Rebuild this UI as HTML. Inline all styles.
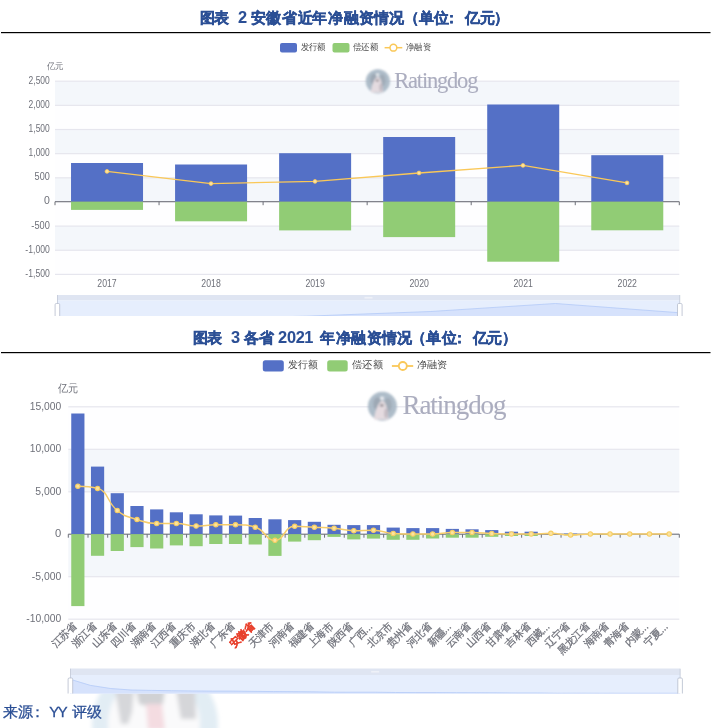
<!DOCTYPE html>
<html><head><meta charset="utf-8"><style>
html,body{margin:0;padding:0;background:#fff;width:715px;height:728px;overflow:hidden}
svg{display:block;font-family:"Liberation Sans",sans-serif;will-change:transform}
</style></head><body>
<svg width="715" height="728" viewBox="0 0 715 728">
<defs>
<filter id="blur1" x="-20%" y="-20%" width="140%" height="140%"><feGaussianBlur stdDeviation="0.9"/></filter>
<filter id="blur2" x="-20%" y="-20%" width="140%" height="140%"><feGaussianBlur stdDeviation="1.0"/></filter>
<filter id="blur3" x="-20%" y="-20%" width="140%" height="140%"><feGaussianBlur stdDeviation="2.2"/></filter>
</defs>
<rect width="715" height="728" fill="#fff"/>
<clipPath id="wm"><rect x="0" y="693.5" width="715" height="40"/></clipPath><g clip-path="url(#wm)"><g filter="url(#blur3)">
<circle cx="155" cy="724" r="63" fill="#E2EDF4"/>
<ellipse cx="154" cy="724" rx="46" ry="50" fill="#FAFAFB"/>
<path d="M115,690 L134,690 L132,712 L128,724 L121,724 Z" fill="#D6D7DA"/>
<path d="M136,690 L165,690 L163,704 L150,707 L139,704 Z" fill="#D0D1D4"/>
<path d="M146,704 L162,704 L165,730 L148,730 Z" fill="#F4DCE1"/>
<path d="M176,690 L195,690 L196,719 L181,719 Z" fill="#D5D6D9"/>
</g></g>
<text y="22.9" font-size="14.6" fill="#2B4F95" stroke="#2B4F95" stroke-width="0.4"><tspan x="200.11" font-weight="bold">图</tspan><tspan x="213.91" font-weight="bold">表</tspan><tspan x="237.92" font-weight="bold" font-size="16.35" stroke-width="0.05">2</tspan><tspan x="250.91" font-weight="bold">安</tspan><tspan x="265.91" font-weight="bold">徽</tspan><tspan x="281.61" font-weight="bold">省</tspan><tspan x="297.81" font-weight="bold">近</tspan><tspan x="312.41" font-weight="bold">年</tspan><tspan x="327.81" font-weight="bold">净</tspan><tspan x="343.61" font-weight="bold">融</tspan><tspan x="359.01" font-weight="bold">资</tspan><tspan x="374.41" font-weight="bold">情</tspan><tspan x="389.31" font-weight="bold">况</tspan><tspan x="403.61" font-weight="bold">（</tspan><tspan x="418.91" font-weight="bold">单</tspan><tspan x="434.31" font-weight="bold">位</tspan><tspan x="444.23" font-weight="bold">：</tspan><tspan x="465.11" font-weight="bold">亿</tspan><tspan x="479.71" font-weight="bold">元</tspan><tspan x="494.3" font-weight="bold">）</tspan></text>
<rect x="1" y="32" width="709.5" height="1.2" fill="#000"/>
<rect x="280" y="43" width="17" height="9.5" rx="2" fill="#5470C6"/>
<text x="300.7" y="49.900000000000006" font-size="8.8" fill="#4A4A4A" textLength="25.2" lengthAdjust="spacingAndGlyphs">发行额</text>
<rect x="332.5" y="43" width="17" height="9.5" rx="2" fill="#91CC75"/>
<text x="353" y="49.900000000000006" font-size="8.8" fill="#4A4A4A" textLength="25" lengthAdjust="spacingAndGlyphs">偿还额</text>
<line x1="384.6" y1="47.7" x2="402.3" y2="47.7" stroke="#FAC858" stroke-width="1.5"/>
<circle cx="393.4" cy="47.7" r="3.4" fill="#fff" stroke="#FAC858" stroke-width="1.5"/>
<text x="406" y="49.900000000000006" font-size="8.8" fill="#4A4A4A" textLength="24.8" lengthAdjust="spacingAndGlyphs">净融资</text>
<rect x="55.0" y="81.2" width="624.3" height="24.15" fill="#F4F7FB"/>
<rect x="55.0" y="105.35" width="624.3" height="24.15" fill="#FEFEFF"/>
<rect x="55.0" y="129.5" width="624.3" height="24.15" fill="#F4F7FB"/>
<rect x="55.0" y="153.65" width="624.3" height="24.15" fill="#FEFEFF"/>
<rect x="55.0" y="177.8" width="624.3" height="24.15" fill="#F4F7FB"/>
<rect x="55.0" y="201.95" width="624.3" height="24.15" fill="#FEFEFF"/>
<rect x="55.0" y="226.1" width="624.3" height="24.15" fill="#F4F7FB"/>
<rect x="55.0" y="250.25" width="624.3" height="24.15" fill="#FEFEFF"/>
<rect x="55.0" y="80.6" width="624.3" height="1.2" fill="#E6E6EE"/>
<rect x="55.0" y="104.75" width="624.3" height="1.2" fill="#E6E6EE"/>
<rect x="55.0" y="128.9" width="624.3" height="1.2" fill="#E6E6EE"/>
<rect x="55.0" y="153.05" width="624.3" height="1.2" fill="#E6E6EE"/>
<rect x="55.0" y="177.2" width="624.3" height="1.2" fill="#E6E6EE"/>
<rect x="55.0" y="225.5" width="624.3" height="1.2" fill="#E6E6EE"/>
<rect x="55.0" y="249.65" width="624.3" height="1.2" fill="#E6E6EE"/>
<rect x="55.0" y="273.8" width="624.3" height="1.2" fill="#E6E6EE"/>
<g filter="url(#blur1)" opacity="0.92">
<circle cx="377.85" cy="81.35" r="12.1" fill="#A7B7C5"/>
<ellipse cx="373.82" cy="79.33" rx="3.53" ry="5.55" fill="#95A1AE"/>
<ellipse cx="382.39" cy="80.34" rx="3.23" ry="6.05" fill="#9AA6B2"/>
<path d="M370.79,92.44 C371.8,84.38 374.83,77.32 377.85,76.81 C380.88,77.32 382.39,84.38 382.89,92.44 Z" fill="#E3D9DE"/>
<circle cx="377.55" cy="74.8" r="1.51" fill="#EEF0F3"/>
<ellipse cx="377.35" cy="80.54" rx="1.51" ry="1.31" fill="#8F878E"/>
<ellipse cx="380.88" cy="87.4" rx="1.51" ry="4.03" fill="#C0B6BE"/>
</g>
<text x="394.2" y="87.9" font-family="Liberation Serif" font-size="22.5" fill="#ABADBF" stroke="#ABADBF" stroke-width="0.1" textLength="84.2" lengthAdjust="spacing">Ratingdog</text>
<rect x="55.0" y="201.15" width="624.3" height="1.1" fill="#6E7079"/>
<rect x="54.5" y="201.7" width="1" height="3.5" fill="#6E7079"/>
<rect x="158.55" y="201.7" width="1" height="3.5" fill="#6E7079"/>
<rect x="262.6" y="201.7" width="1" height="3.5" fill="#6E7079"/>
<rect x="366.65" y="201.7" width="1" height="3.5" fill="#6E7079"/>
<rect x="470.7" y="201.7" width="1" height="3.5" fill="#6E7079"/>
<rect x="574.75" y="201.7" width="1" height="3.5" fill="#6E7079"/>
<rect x="678.8" y="201.7" width="1" height="3.5" fill="#6E7079"/>
<rect x="71.03" y="163" width="72" height="38.7" fill="#5470C6"/>
<rect x="71.03" y="201.7" width="72" height="8.2" fill="#91CC75"/>
<rect x="175.07" y="164.5" width="72" height="37.2" fill="#5470C6"/>
<rect x="175.07" y="201.7" width="72" height="19.6" fill="#91CC75"/>
<rect x="279.12" y="153.2" width="72" height="48.5" fill="#5470C6"/>
<rect x="279.12" y="201.7" width="72" height="28.7" fill="#91CC75"/>
<rect x="383.18" y="137" width="72" height="64.7" fill="#5470C6"/>
<rect x="383.18" y="201.7" width="72" height="35.4" fill="#91CC75"/>
<rect x="487.22" y="104.5" width="72" height="97.2" fill="#5470C6"/>
<rect x="487.22" y="201.7" width="72" height="60" fill="#91CC75"/>
<rect x="591.27" y="155.2" width="72" height="46.5" fill="#5470C6"/>
<rect x="591.27" y="201.7" width="72" height="28.6" fill="#91CC75"/>
<polyline points="107,171.4 211,183.6 315,181.4 419,173.0 523,165.4 627,182.9" fill="none" stroke="#FAC858" stroke-width="1.3"/>
<circle cx="107" cy="171.4" r="1.9" fill="#FCE3A0" stroke="#FAC858" stroke-width="0.8"/>
<circle cx="211" cy="183.6" r="1.9" fill="#FCE3A0" stroke="#FAC858" stroke-width="0.8"/>
<circle cx="315" cy="181.4" r="1.9" fill="#FCE3A0" stroke="#FAC858" stroke-width="0.8"/>
<circle cx="419" cy="173.0" r="1.9" fill="#FCE3A0" stroke="#FAC858" stroke-width="0.8"/>
<circle cx="523" cy="165.4" r="1.9" fill="#FCE3A0" stroke="#FAC858" stroke-width="0.8"/>
<circle cx="627" cy="182.9" r="1.9" fill="#FCE3A0" stroke="#FAC858" stroke-width="0.8"/>
<text x="49.8" y="83.7" text-anchor="end" font-size="10.5" fill="#6E7079" textLength="21.2" lengthAdjust="spacingAndGlyphs">2,500</text>
<text x="49.8" y="107.85" text-anchor="end" font-size="10.5" fill="#6E7079" textLength="21.2" lengthAdjust="spacingAndGlyphs">2,000</text>
<text x="49.8" y="132" text-anchor="end" font-size="10.5" fill="#6E7079" textLength="21.2" lengthAdjust="spacingAndGlyphs">1,500</text>
<text x="49.8" y="156.15" text-anchor="end" font-size="10.5" fill="#6E7079" textLength="21.2" lengthAdjust="spacingAndGlyphs">1,000</text>
<text x="49.8" y="180.3" text-anchor="end" font-size="10.5" fill="#6E7079" textLength="15.2" lengthAdjust="spacingAndGlyphs">500</text>
<text x="49.8" y="204.45" text-anchor="end" font-size="10.5" fill="#6E7079">0</text>
<text x="49.8" y="228.6" text-anchor="end" font-size="10.5" fill="#6E7079" textLength="18.5" lengthAdjust="spacingAndGlyphs">-500</text>
<text x="49.8" y="252.75" text-anchor="end" font-size="10.5" fill="#6E7079" textLength="24.5" lengthAdjust="spacingAndGlyphs">-1,000</text>
<text x="49.8" y="276.9" text-anchor="end" font-size="10.5" fill="#6E7079" textLength="24.5" lengthAdjust="spacingAndGlyphs">-1,500</text>
<text x="47" y="69.2" font-size="9" fill="#6E7079" textLength="16.6" lengthAdjust="spacingAndGlyphs">亿元</text>
<text x="107.03" y="286.5" text-anchor="middle" font-size="10.3" fill="#6E7079" textLength="19.4" lengthAdjust="spacingAndGlyphs">2017</text>
<text x="211.07" y="286.5" text-anchor="middle" font-size="10.3" fill="#6E7079" textLength="19.4" lengthAdjust="spacingAndGlyphs">2018</text>
<text x="315.12" y="286.5" text-anchor="middle" font-size="10.3" fill="#6E7079" textLength="19.4" lengthAdjust="spacingAndGlyphs">2019</text>
<text x="419.18" y="286.5" text-anchor="middle" font-size="10.3" fill="#6E7079" textLength="19.4" lengthAdjust="spacingAndGlyphs">2020</text>
<text x="523.22" y="286.5" text-anchor="middle" font-size="10.3" fill="#6E7079" textLength="19.4" lengthAdjust="spacingAndGlyphs">2021</text>
<text x="627.27" y="286.5" text-anchor="middle" font-size="10.3" fill="#6E7079" textLength="19.4" lengthAdjust="spacingAndGlyphs">2022</text>
<rect x="57" y="295" width="623" height="5.5" fill="#DFE5F2"/>
<rect x="57" y="300.5" width="623" height="15.5" fill="#E6EEFD"/>
<rect x="364.5" y="296.95" width="8" height="1.6" fill="#EEF1F8"/>
<clipPath id="cs1"><rect x="57" y="300.5" width="623" height="15.5"/></clipPath>
<g clip-path="url(#cs1)">
<path d="M57,336 L57,318.5 L181.6,319 L306.2,316.2 L430.8,311.5 L555.4,303.5 L680,312.8 L680,336 Z" fill="#D6E2FC" stroke="#B4CAF8" stroke-width="0.8"/>
</g>
<clipPath id="cs1b"><rect x="47" y="295" width="643" height="21"/></clipPath>
<g clip-path="url(#cs1b)">
<rect x="57" y="295" width="0.8" height="8.5" fill="#C3CAD8"/>
<rect x="55.1" y="303.5" width="4.6" height="20.5" rx="1.2" fill="#fff" stroke="#B5BDCD" stroke-width="0.8"/>
<rect x="679.4" y="295" width="0.8" height="8.5" fill="#C3CAD8"/>
<rect x="677.5" y="303.5" width="4.6" height="20.5" rx="1.2" fill="#fff" stroke="#B5BDCD" stroke-width="0.8"/>
</g>
<text y="342.9" font-size="14.6" fill="#2B4F95" stroke="#2B4F95" stroke-width="0.4"><tspan x="193.11" font-weight="bold">图</tspan><tspan x="206.91" font-weight="bold">表</tspan><tspan x="230.92" font-weight="bold" font-size="16.35" stroke-width="0.05">3</tspan><tspan x="243.91" font-weight="bold">各</tspan><tspan x="259.21" font-weight="bold">省</tspan><tspan x="278.12" font-weight="bold" font-size="16.35" stroke-width="0.05">2</tspan><tspan x="286.92" font-weight="bold" font-size="16.35" stroke-width="0.05">0</tspan><tspan x="295.82" font-weight="bold" font-size="16.35" stroke-width="0.05">2</tspan><tspan x="304.14" font-weight="bold" font-size="16.35" stroke-width="0.05">1</tspan><tspan x="320.11" font-weight="bold">年</tspan><tspan x="335.51" font-weight="bold">净</tspan><tspan x="351.31" font-weight="bold">融</tspan><tspan x="366.71" font-weight="bold">资</tspan><tspan x="382.11" font-weight="bold">情</tspan><tspan x="397.01" font-weight="bold">况</tspan><tspan x="411.31" font-weight="bold">（</tspan><tspan x="426.21" font-weight="bold">单</tspan><tspan x="442.01" font-weight="bold">位</tspan><tspan x="451.93" font-weight="bold">：</tspan><tspan x="472.81" font-weight="bold">亿</tspan><tspan x="487.41" font-weight="bold">元</tspan><tspan x="501.9" font-weight="bold">）</tspan></text>
<rect x="1" y="352" width="709.5" height="1.2" fill="#000"/>
<rect x="262.8" y="360.3" width="21" height="11.3" rx="2.5" fill="#5470C6"/>
<text x="288.4" y="368.3" font-size="10.3" fill="#4A4A4A" textLength="29.6" lengthAdjust="spacingAndGlyphs">发行额</text>
<rect x="327.2" y="360.3" width="20.5" height="11.3" rx="2.5" fill="#91CC75"/>
<text x="352.3" y="368.3" font-size="10.3" fill="#4A4A4A" textLength="30.5" lengthAdjust="spacingAndGlyphs">偿还额</text>
<line x1="391.9" y1="366" x2="413.2" y2="366" stroke="#FAC858" stroke-width="1.8"/>
<circle cx="402.8" cy="366" r="4" fill="#fff" stroke="#FAC858" stroke-width="1.8"/>
<text x="416.8" y="368.3" font-size="10.3" fill="#4A4A4A" textLength="30.4" lengthAdjust="spacingAndGlyphs">净融资</text>
<rect x="68.3" y="406.8" width="611" height="42.5" fill="#FEFEFF"/>
<rect x="68.3" y="449.3" width="611" height="42.5" fill="#F4F7FB"/>
<rect x="68.3" y="491.8" width="611" height="42.5" fill="#FEFEFF"/>
<rect x="68.3" y="534.3" width="611" height="42.4" fill="#F4F7FB"/>
<rect x="68.3" y="576.7" width="611" height="42.5" fill="#FEFEFF"/>
<rect x="68.3" y="406.2" width="611" height="1.2" fill="#E6E6EE"/>
<rect x="68.3" y="448.7" width="611" height="1.2" fill="#E6E6EE"/>
<rect x="68.3" y="491.2" width="611" height="1.2" fill="#E6E6EE"/>
<rect x="68.3" y="576.1" width="611" height="1.2" fill="#E6E6EE"/>
<rect x="68.3" y="618.6" width="611" height="1.2" fill="#E6E6EE"/>
<g filter="url(#blur2)" opacity="0.92">
<circle cx="382.4" cy="406.2" r="14.5" fill="#A7B7C5"/>
<ellipse cx="377.57" cy="403.78" rx="4.23" ry="6.65" fill="#95A1AE"/>
<ellipse cx="387.84" cy="404.99" rx="3.87" ry="7.25" fill="#9AA6B2"/>
<path d="M373.94,419.49 C375.15,409.82 378.77,401.37 382.4,400.76 C386.02,401.37 387.84,409.82 388.44,419.49 Z" fill="#E3D9DE"/>
<circle cx="382.04" cy="398.35" r="1.81" fill="#EEF0F3"/>
<ellipse cx="381.8" cy="405.23" rx="1.81" ry="1.57" fill="#8F878E"/>
<ellipse cx="386.02" cy="413.45" rx="1.81" ry="4.83" fill="#C0B6BE"/>
</g>
<text x="402.5" y="414.1" font-family="Liberation Serif" font-size="27" fill="#ABADBF" stroke="#ABADBF" stroke-width="0.1" textLength="104" lengthAdjust="spacing">Ratingdog</text>
<rect x="68.3" y="533.65" width="611" height="1.1" fill="#6E7079"/>
<rect x="67.8" y="534.2" width="1" height="3.5" fill="#6E7079"/>
<rect x="87.51" y="534.2" width="1" height="3.5" fill="#6E7079"/>
<rect x="107.22" y="534.2" width="1" height="3.5" fill="#6E7079"/>
<rect x="126.93" y="534.2" width="1" height="3.5" fill="#6E7079"/>
<rect x="146.64" y="534.2" width="1" height="3.5" fill="#6E7079"/>
<rect x="166.35" y="534.2" width="1" height="3.5" fill="#6E7079"/>
<rect x="186.06" y="534.2" width="1" height="3.5" fill="#6E7079"/>
<rect x="205.77" y="534.2" width="1" height="3.5" fill="#6E7079"/>
<rect x="225.48" y="534.2" width="1" height="3.5" fill="#6E7079"/>
<rect x="245.19" y="534.2" width="1" height="3.5" fill="#6E7079"/>
<rect x="264.9" y="534.2" width="1" height="3.5" fill="#6E7079"/>
<rect x="284.61" y="534.2" width="1" height="3.5" fill="#6E7079"/>
<rect x="304.32" y="534.2" width="1" height="3.5" fill="#6E7079"/>
<rect x="324.03" y="534.2" width="1" height="3.5" fill="#6E7079"/>
<rect x="343.74" y="534.2" width="1" height="3.5" fill="#6E7079"/>
<rect x="363.45" y="534.2" width="1" height="3.5" fill="#6E7079"/>
<rect x="383.15" y="534.2" width="1" height="3.5" fill="#6E7079"/>
<rect x="402.86" y="534.2" width="1" height="3.5" fill="#6E7079"/>
<rect x="422.57" y="534.2" width="1" height="3.5" fill="#6E7079"/>
<rect x="442.28" y="534.2" width="1" height="3.5" fill="#6E7079"/>
<rect x="461.99" y="534.2" width="1" height="3.5" fill="#6E7079"/>
<rect x="481.7" y="534.2" width="1" height="3.5" fill="#6E7079"/>
<rect x="501.41" y="534.2" width="1" height="3.5" fill="#6E7079"/>
<rect x="521.12" y="534.2" width="1" height="3.5" fill="#6E7079"/>
<rect x="540.83" y="534.2" width="1" height="3.5" fill="#6E7079"/>
<rect x="560.54" y="534.2" width="1" height="3.5" fill="#6E7079"/>
<rect x="580.25" y="534.2" width="1" height="3.5" fill="#6E7079"/>
<rect x="599.96" y="534.2" width="1" height="3.5" fill="#6E7079"/>
<rect x="619.67" y="534.2" width="1" height="3.5" fill="#6E7079"/>
<rect x="639.38" y="534.2" width="1" height="3.5" fill="#6E7079"/>
<rect x="659.09" y="534.2" width="1" height="3.5" fill="#6E7079"/>
<rect x="678.8" y="534.2" width="1" height="3.5" fill="#6E7079"/>
<rect x="71.25" y="413.5" width="13.2" height="120.7" fill="#5470C6"/>
<rect x="71.25" y="534.2" width="13.2" height="71.9" fill="#91CC75"/>
<rect x="90.96" y="466.6" width="13.2" height="67.6" fill="#5470C6"/>
<rect x="90.96" y="534.2" width="13.2" height="21.6" fill="#91CC75"/>
<rect x="110.67" y="493.2" width="13.2" height="41" fill="#5470C6"/>
<rect x="110.67" y="534.2" width="13.2" height="16.8" fill="#91CC75"/>
<rect x="130.38" y="506" width="13.2" height="28.2" fill="#5470C6"/>
<rect x="130.38" y="534.2" width="13.2" height="12.9" fill="#91CC75"/>
<rect x="150.09" y="509.4" width="13.2" height="24.8" fill="#5470C6"/>
<rect x="150.09" y="534.2" width="13.2" height="14.3" fill="#91CC75"/>
<rect x="169.8" y="512.3" width="13.2" height="21.9" fill="#5470C6"/>
<rect x="169.8" y="534.2" width="13.2" height="11.2" fill="#91CC75"/>
<rect x="189.51" y="514.3" width="13.2" height="19.9" fill="#5470C6"/>
<rect x="189.51" y="534.2" width="13.2" height="12" fill="#91CC75"/>
<rect x="209.22" y="515.4" width="13.2" height="18.8" fill="#5470C6"/>
<rect x="209.22" y="534.2" width="13.2" height="9.8" fill="#91CC75"/>
<rect x="228.93" y="515.6" width="13.2" height="18.6" fill="#5470C6"/>
<rect x="228.93" y="534.2" width="13.2" height="9.8" fill="#91CC75"/>
<rect x="248.64" y="518" width="13.2" height="16.2" fill="#5470C6"/>
<rect x="248.64" y="534.2" width="13.2" height="10.3" fill="#91CC75"/>
<rect x="268.35" y="519.3" width="13.2" height="14.9" fill="#5470C6"/>
<rect x="268.35" y="534.2" width="13.2" height="21.7" fill="#91CC75"/>
<rect x="288.06" y="520.1" width="13.2" height="14.1" fill="#5470C6"/>
<rect x="288.06" y="534.2" width="13.2" height="7.4" fill="#91CC75"/>
<rect x="307.77" y="521.8" width="13.2" height="12.4" fill="#5470C6"/>
<rect x="307.77" y="534.2" width="13.2" height="6" fill="#91CC75"/>
<rect x="327.48" y="524.8" width="13.2" height="9.4" fill="#5470C6"/>
<rect x="327.48" y="534.2" width="13.2" height="2.7" fill="#91CC75"/>
<rect x="347.19" y="525.1" width="13.2" height="9.1" fill="#5470C6"/>
<rect x="347.19" y="534.2" width="13.2" height="5.2" fill="#91CC75"/>
<rect x="366.9" y="525.1" width="13.2" height="9.1" fill="#5470C6"/>
<rect x="366.9" y="534.2" width="13.2" height="4.4" fill="#91CC75"/>
<rect x="386.61" y="527.6" width="13.2" height="6.6" fill="#5470C6"/>
<rect x="386.61" y="534.2" width="13.2" height="5.6" fill="#91CC75"/>
<rect x="406.32" y="528.1" width="13.2" height="6.1" fill="#5470C6"/>
<rect x="406.32" y="534.2" width="13.2" height="5.6" fill="#91CC75"/>
<rect x="426.03" y="528.1" width="13.2" height="6.1" fill="#5470C6"/>
<rect x="426.03" y="534.2" width="13.2" height="4.3" fill="#91CC75"/>
<rect x="445.74" y="528.9" width="13.2" height="5.3" fill="#5470C6"/>
<rect x="445.74" y="534.2" width="13.2" height="3.5" fill="#91CC75"/>
<rect x="465.45" y="529.3" width="13.2" height="4.9" fill="#5470C6"/>
<rect x="465.45" y="534.2" width="13.2" height="3.5" fill="#91CC75"/>
<rect x="485.16" y="530.1" width="13.2" height="4.1" fill="#5470C6"/>
<rect x="485.16" y="534.2" width="13.2" height="2.6" fill="#91CC75"/>
<rect x="504.87" y="531.7" width="13.2" height="2.5" fill="#5470C6"/>
<rect x="504.87" y="534.2" width="13.2" height="1.8" fill="#91CC75"/>
<rect x="524.58" y="531.7" width="13.2" height="2.5" fill="#5470C6"/>
<rect x="524.58" y="534.2" width="13.2" height="1.8" fill="#91CC75"/>
<rect x="564" y="533.6" width="13.2" height="0.6" fill="#5470C6"/>
<rect x="564" y="534.2" width="13.2" height="1.1" fill="#91CC75"/>
<rect x="583.71" y="534" width="13.2" height="0.2" fill="#5470C6"/>
<rect x="583.71" y="534.2" width="13.2" height="0.8" fill="#91CC75"/>
<rect x="603.42" y="534.2" width="13.2" height="0.4" fill="#91CC75"/>
<path d="M77.85,486.2 C77.85,486.2 89.66,486.2 97.56,488.4 C109.37,491.68 105.9,501.5 117.27,510.5 C125.61,517.1 126.75,516.2 136.98,519.6 C146.46,522.75 146.74,523.6 156.69,523.6 C166.45,523.6 166.59,523.5 176.4,523.5 C186.3,523.5 186.23,526 196.11,526 C205.94,526 205.96,524.8 215.82,524.8 C225.67,524.8 225.71,524.8 235.53,524.8 C245.42,524.8 246.25,524.8 255.24,527.2 C265.96,530.06 265.2,540.3 274.95,540.3 C284.91,540.3 283.81,526.3 294.66,526.3 C303.52,526.3 304.51,526.82 314.37,527.3 C324.22,527.77 324.26,527.35 334.08,528.2 C343.97,529.05 343.9,530.7 353.79,530.7 C363.61,530.7 363.71,530.2 373.5,530.2 C383.42,530.2 383.29,532.99 393.21,533.5 C403,534 403.06,534 412.92,534 C422.77,534 422.79,534 432.63,534 C442.5,534 442.47,532.6 452.34,532.6 C462.18,532.6 462.2,532.6 472.05,532.6 C481.91,532.6 481.9,533.15 491.76,533.5 C501.61,533.85 501.61,534 511.47,534 C521.32,534 521.33,534 531.18,534 C541.04,534 541.05,533.3 550.89,533.3 C560.76,533.3 560.73,535 570.6,535 C580.44,535 580.45,534 590.31,534 C600.15,534 600.16,534 610.02,534 C619.87,534 619.87,534 629.73,534 C639.58,534 639.58,534 649.44,534 C659.29,534 669.15,534 669.15,534" fill="none" stroke="#F7CD6A" stroke-width="1.5"/>
<circle cx="77.85" cy="486.2" r="2.2" fill="#FBE3A0" stroke="#F8CE62" stroke-width="1.1"/>
<circle cx="97.56" cy="488.4" r="2.2" fill="#FBE3A0" stroke="#F8CE62" stroke-width="1.1"/>
<circle cx="117.27" cy="510.5" r="2.2" fill="#FBE3A0" stroke="#F8CE62" stroke-width="1.1"/>
<circle cx="136.98" cy="519.6" r="2.2" fill="#FBE3A0" stroke="#F8CE62" stroke-width="1.1"/>
<circle cx="156.69" cy="523.6" r="2.2" fill="#FBE3A0" stroke="#F8CE62" stroke-width="1.1"/>
<circle cx="176.4" cy="523.5" r="2.2" fill="#FBE3A0" stroke="#F8CE62" stroke-width="1.1"/>
<circle cx="196.11" cy="526" r="2.2" fill="#FBE3A0" stroke="#F8CE62" stroke-width="1.1"/>
<circle cx="215.82" cy="524.8" r="2.2" fill="#FBE3A0" stroke="#F8CE62" stroke-width="1.1"/>
<circle cx="235.53" cy="524.8" r="2.2" fill="#FBE3A0" stroke="#F8CE62" stroke-width="1.1"/>
<circle cx="255.24" cy="527.2" r="2.2" fill="#FBE3A0" stroke="#F8CE62" stroke-width="1.1"/>
<circle cx="274.95" cy="540.3" r="2.2" fill="#FBE3A0" stroke="#F8CE62" stroke-width="1.1"/>
<circle cx="294.66" cy="526.3" r="2.2" fill="#FBE3A0" stroke="#F8CE62" stroke-width="1.1"/>
<circle cx="314.37" cy="527.3" r="2.2" fill="#FBE3A0" stroke="#F8CE62" stroke-width="1.1"/>
<circle cx="334.08" cy="528.2" r="2.2" fill="#FBE3A0" stroke="#F8CE62" stroke-width="1.1"/>
<circle cx="353.79" cy="530.7" r="2.2" fill="#FBE3A0" stroke="#F8CE62" stroke-width="1.1"/>
<circle cx="373.5" cy="530.2" r="2.2" fill="#FBE3A0" stroke="#F8CE62" stroke-width="1.1"/>
<circle cx="393.21" cy="533.5" r="2.2" fill="#FBE3A0" stroke="#F8CE62" stroke-width="1.1"/>
<circle cx="412.92" cy="534" r="2.2" fill="#FBE3A0" stroke="#F8CE62" stroke-width="1.1"/>
<circle cx="432.63" cy="534" r="2.2" fill="#FBE3A0" stroke="#F8CE62" stroke-width="1.1"/>
<circle cx="452.34" cy="532.6" r="2.2" fill="#FBE3A0" stroke="#F8CE62" stroke-width="1.1"/>
<circle cx="472.05" cy="532.6" r="2.2" fill="#FBE3A0" stroke="#F8CE62" stroke-width="1.1"/>
<circle cx="491.76" cy="533.5" r="2.2" fill="#FBE3A0" stroke="#F8CE62" stroke-width="1.1"/>
<circle cx="511.47" cy="534" r="2.2" fill="#FBE3A0" stroke="#F8CE62" stroke-width="1.1"/>
<circle cx="531.18" cy="534" r="2.2" fill="#FBE3A0" stroke="#F8CE62" stroke-width="1.1"/>
<circle cx="550.89" cy="533.3" r="2.2" fill="#FBE3A0" stroke="#F8CE62" stroke-width="1.1"/>
<circle cx="570.6" cy="535" r="2.2" fill="#FBE3A0" stroke="#F8CE62" stroke-width="1.1"/>
<circle cx="590.31" cy="534" r="2.2" fill="#FBE3A0" stroke="#F8CE62" stroke-width="1.1"/>
<circle cx="610.02" cy="534" r="2.2" fill="#FBE3A0" stroke="#F8CE62" stroke-width="1.1"/>
<circle cx="629.73" cy="534" r="2.2" fill="#FBE3A0" stroke="#F8CE62" stroke-width="1.1"/>
<circle cx="649.44" cy="534" r="2.2" fill="#FBE3A0" stroke="#F8CE62" stroke-width="1.1"/>
<circle cx="669.15" cy="534" r="2.2" fill="#FBE3A0" stroke="#F8CE62" stroke-width="1.1"/>
<text x="61.3" y="409.6" text-anchor="end" font-size="11.2" fill="#6E7079" textLength="31.5" lengthAdjust="spacingAndGlyphs">15,000</text>
<text x="61.3" y="452.1" text-anchor="end" font-size="11.2" fill="#6E7079" textLength="31.5" lengthAdjust="spacingAndGlyphs">10,000</text>
<text x="61.3" y="494.6" text-anchor="end" font-size="11.2" fill="#6E7079" textLength="26" lengthAdjust="spacingAndGlyphs">5,000</text>
<text x="61.3" y="537.1" text-anchor="end" font-size="11.2" fill="#6E7079">0</text>
<text x="61.3" y="579.5" text-anchor="end" font-size="11.2" fill="#6E7079" textLength="29.5" lengthAdjust="spacingAndGlyphs">-5,000</text>
<text x="61.3" y="622" text-anchor="end" font-size="11.2" fill="#6E7079" textLength="35" lengthAdjust="spacingAndGlyphs">-10,000</text>
<text x="58" y="392.2" font-size="10.6" fill="#6E7079" textLength="20.2" lengthAdjust="spacingAndGlyphs">亿元</text>
<text transform="translate(77.35,627.2) rotate(-45)" x="0" y="0" text-anchor="end" font-size="10.4" fill="#6E7079" stroke="#6E7079" stroke-width="0.25">江苏省</text>
<text transform="translate(97.06,627.2) rotate(-45)" x="0" y="0" text-anchor="end" font-size="10.4" fill="#6E7079" stroke="#6E7079" stroke-width="0.25">浙江省</text>
<text transform="translate(116.77,627.2) rotate(-45)" x="0" y="0" text-anchor="end" font-size="10.4" fill="#6E7079" stroke="#6E7079" stroke-width="0.25">山东省</text>
<text transform="translate(136.48,627.2) rotate(-45)" x="0" y="0" text-anchor="end" font-size="10.4" fill="#6E7079" stroke="#6E7079" stroke-width="0.25">四川省</text>
<text transform="translate(156.19,627.2) rotate(-45)" x="0" y="0" text-anchor="end" font-size="10.4" fill="#6E7079" stroke="#6E7079" stroke-width="0.25">湖南省</text>
<text transform="translate(175.9,627.2) rotate(-45)" x="0" y="0" text-anchor="end" font-size="10.4" fill="#6E7079" stroke="#6E7079" stroke-width="0.25">江西省</text>
<text transform="translate(195.61,627.2) rotate(-45)" x="0" y="0" text-anchor="end" font-size="10.4" fill="#6E7079" stroke="#6E7079" stroke-width="0.25">重庆市</text>
<text transform="translate(215.32,627.2) rotate(-45)" x="0" y="0" text-anchor="end" font-size="10.4" fill="#6E7079" stroke="#6E7079" stroke-width="0.25">湖北省</text>
<text transform="translate(235.03,627.2) rotate(-45)" x="0" y="0" text-anchor="end" font-size="10.4" fill="#6E7079" stroke="#6E7079" stroke-width="0.25">广东省</text>
<text transform="translate(254.74,627.2) rotate(-45)" x="0" y="0" text-anchor="end" font-size="10.4" font-weight="bold" fill="#E8402C" stroke="#E8402C" stroke-width="0.25">安徽省</text>
<text transform="translate(274.45,627.2) rotate(-45)" x="0" y="0" text-anchor="end" font-size="10.4" fill="#6E7079" stroke="#6E7079" stroke-width="0.25">天津市</text>
<text transform="translate(294.16,627.2) rotate(-45)" x="0" y="0" text-anchor="end" font-size="10.4" fill="#6E7079" stroke="#6E7079" stroke-width="0.25">河南省</text>
<text transform="translate(313.87,627.2) rotate(-45)" x="0" y="0" text-anchor="end" font-size="10.4" fill="#6E7079" stroke="#6E7079" stroke-width="0.25">福建省</text>
<text transform="translate(333.58,627.2) rotate(-45)" x="0" y="0" text-anchor="end" font-size="10.4" fill="#6E7079" stroke="#6E7079" stroke-width="0.25">上海市</text>
<text transform="translate(353.29,627.2) rotate(-45)" x="0" y="0" text-anchor="end" font-size="10.4" fill="#6E7079" stroke="#6E7079" stroke-width="0.25">陕西省</text>
<text transform="translate(373,627.2) rotate(-45)" x="0" y="0" text-anchor="end" font-size="10.4" fill="#6E7079" stroke="#6E7079" stroke-width="0.25">广西...</text>
<text transform="translate(392.71,627.2) rotate(-45)" x="0" y="0" text-anchor="end" font-size="10.4" fill="#6E7079" stroke="#6E7079" stroke-width="0.25">北京市</text>
<text transform="translate(412.42,627.2) rotate(-45)" x="0" y="0" text-anchor="end" font-size="10.4" fill="#6E7079" stroke="#6E7079" stroke-width="0.25">贵州省</text>
<text transform="translate(432.13,627.2) rotate(-45)" x="0" y="0" text-anchor="end" font-size="10.4" fill="#6E7079" stroke="#6E7079" stroke-width="0.25">河北省</text>
<text transform="translate(451.84,627.2) rotate(-45)" x="0" y="0" text-anchor="end" font-size="10.4" fill="#6E7079" stroke="#6E7079" stroke-width="0.25">新疆...</text>
<text transform="translate(471.55,627.2) rotate(-45)" x="0" y="0" text-anchor="end" font-size="10.4" fill="#6E7079" stroke="#6E7079" stroke-width="0.25">云南省</text>
<text transform="translate(491.26,627.2) rotate(-45)" x="0" y="0" text-anchor="end" font-size="10.4" fill="#6E7079" stroke="#6E7079" stroke-width="0.25">山西省</text>
<text transform="translate(510.97,627.2) rotate(-45)" x="0" y="0" text-anchor="end" font-size="10.4" fill="#6E7079" stroke="#6E7079" stroke-width="0.25">甘肃省</text>
<text transform="translate(530.68,627.2) rotate(-45)" x="0" y="0" text-anchor="end" font-size="10.4" fill="#6E7079" stroke="#6E7079" stroke-width="0.25">吉林省</text>
<text transform="translate(550.39,627.2) rotate(-45)" x="0" y="0" text-anchor="end" font-size="10.4" fill="#6E7079" stroke="#6E7079" stroke-width="0.25">西藏...</text>
<text transform="translate(570.1,627.2) rotate(-45)" x="0" y="0" text-anchor="end" font-size="10.4" fill="#6E7079" stroke="#6E7079" stroke-width="0.25">辽宁省</text>
<text transform="translate(589.81,627.2) rotate(-45)" x="0" y="0" text-anchor="end" font-size="10.4" fill="#6E7079" stroke="#6E7079" stroke-width="0.25">黑龙江省</text>
<text transform="translate(609.52,627.2) rotate(-45)" x="0" y="0" text-anchor="end" font-size="10.4" fill="#6E7079" stroke="#6E7079" stroke-width="0.25">海南省</text>
<text transform="translate(629.23,627.2) rotate(-45)" x="0" y="0" text-anchor="end" font-size="10.4" fill="#6E7079" stroke="#6E7079" stroke-width="0.25">青海省</text>
<text transform="translate(648.94,627.2) rotate(-45)" x="0" y="0" text-anchor="end" font-size="10.4" fill="#6E7079" stroke="#6E7079" stroke-width="0.25">内蒙...</text>
<text transform="translate(668.65,627.2) rotate(-45)" x="0" y="0" text-anchor="end" font-size="10.4" fill="#6E7079" stroke="#6E7079" stroke-width="0.25">宁夏...</text>
<rect x="70" y="668.5" width="610.3" height="6.5" fill="#DFE5F2"/>
<rect x="70" y="675" width="610.3" height="18.5" fill="#E6EEFD"/>
<rect x="371.15" y="670.95" width="8" height="1.6" fill="#EEF1F8"/>
<clipPath id="cs2"><rect x="70" y="675" width="610.3" height="18.5"/></clipPath>
<g clip-path="url(#cs2)">
<path d="M70,713.5 L70,679.22 L90.34,685.36 L110.69,688.53 L131.03,690.01 L151.37,690.41 L171.72,690.71 L192.06,690.95 L212.4,691.1 L232.75,691.1 L253.09,691.4 L273.43,691.55 L293.78,691.65 L314.12,691.85 L334.46,692.19 L354.81,692.21 L375.15,692.21 L395.49,692.51 L415.84,692.57 L436.18,692.57 L456.52,692.66 L476.87,692.71 L497.21,692.8 L517.55,692.98 L537.9,692.98 L558.24,693.28 L578.58,693.2 L598.93,693.25 L619.27,693.28 L639.61,693.28 L659.96,693.28 L680.3,693.28 L680.3,713.5 Z" fill="#D6E2FC" stroke="#B4CAF8" stroke-width="0.8"/>
</g>
<clipPath id="cs2b"><rect x="60" y="668.5" width="630.3" height="25"/></clipPath>
<g clip-path="url(#cs2b)">
<rect x="70" y="668.5" width="0.8" height="9.5" fill="#C3CAD8"/>
<rect x="68.1" y="678" width="4.6" height="23.5" rx="1.2" fill="#fff" stroke="#B5BDCD" stroke-width="0.8"/>
<rect x="679.7" y="668.5" width="0.8" height="9.5" fill="#C3CAD8"/>
<rect x="677.8" y="678" width="4.6" height="23.5" rx="1.2" fill="#fff" stroke="#B5BDCD" stroke-width="0.8"/>
</g>
<text y="716.6" font-size="14.8" fill="#2B4F95" stroke="#2B4F95" stroke-width="0.3"><tspan x="3.1" font-weight="normal">来</tspan><tspan x="18.2" font-weight="normal">源</tspan><tspan x="29.54" font-weight="normal">：</tspan><tspan x="49.2" font-weight="normal">Y</tspan><tspan x="57.7" font-weight="normal">Y</tspan><tspan x="72" font-weight="normal">评</tspan><tspan x="87.4" font-weight="normal">级</tspan></text>
</svg>
</body></html>
